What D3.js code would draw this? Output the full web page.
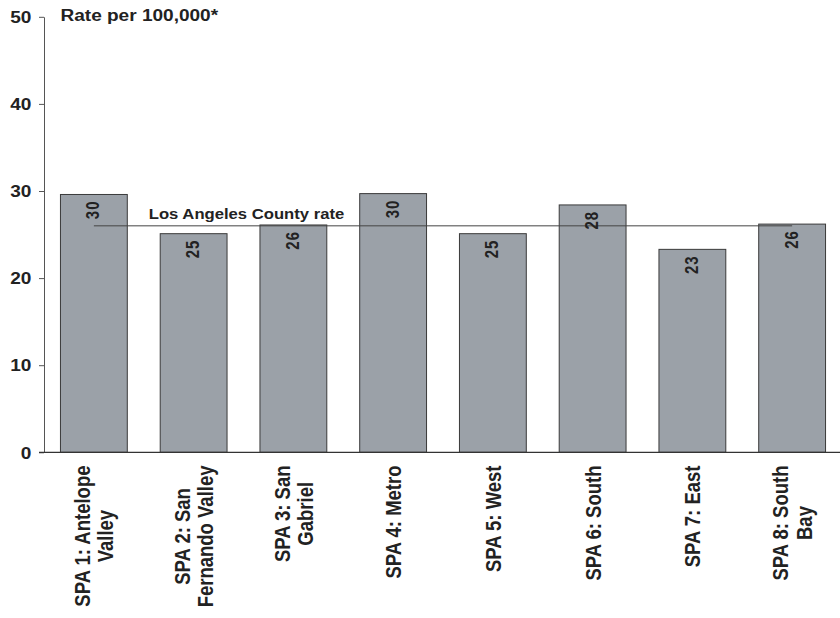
<!DOCTYPE html>
<html>
<head>
<meta charset="utf-8">
<title>Rate per 100,000 by SPA</title>
<script src="https://d3js.org/d3.v7.min.js"></script>
<style>
  body { margin: 0; background: #fff; }
  text { font-family: Arial, "Liberation Sans", Helvetica, sans-serif; font-weight: bold; fill: #222; }
</style>
</head>
<body>
<svg width="840" height="618"></svg>
<script>
// data
var categories = ["SPA 1", "SPA 2", "SPA 3", "SPA 4", "SPA 5", "SPA 6", "SPA 7", "SPA 8"];
var categoryLines = [
  ["SPA 1: Antelope", "Valley"],
  ["SPA 2: San", "Fernando Valley"],
  ["SPA 3: San", "Gabriel"],
  ["SPA 4: Metro"],
  ["SPA 5: West"],
  ["SPA 6: South"],
  ["SPA 7: East"],
  ["SPA 8: South", "Bay"]
];
var rates = [29.6, 25.1, 26.1, 29.7, 25.1, 28.4, 23.3, 26.2];
var rateLabels = ["30", "25", "26", "30", "25", "28", "23", "26"];
var countyRate = 26.0;
var countyLabel = "Los Angeles County rate";
var yTicks = [0, 10, 20, 30, 40, 50];
var yTitle = "Rate per 100,000*";

// the original picture is a bit stretched sideways, text gets the same stretch
var sx = 1.19;

var svg = d3.select("svg");

var x = d3.scaleBand()
  .domain(categories)
  .range([44, 842])
  .paddingInner(0.33)
  .paddingOuter(0.165);

var y = d3.scaleLinear()
  .domain([0, 50])
  .range([452.3, 16.8]);

// y axis
var yAxis = svg.append("g")
  .attr("transform", "translate(44,0)")
  .call(d3.axisLeft(y).tickValues(yTicks).tickSize(5).tickSizeOuter(0));

yAxis.select(".domain").attr("stroke", "#555");
yAxis.selectAll(".tick line").attr("stroke", "#555");
yAxis.selectAll(".tick text")
  .attr("x", -12.7 / sx)
  .attr("dy", "0.36em")
  .attr("transform", "scale(" + sx + ",1)")
  .style("font-size", "16px")
  .style("font-family", "Arial, 'Liberation Sans', sans-serif")
  .style("font-weight", "bold")
  .attr("fill", "#222");

// title
svg.append("text")
  .attr("transform", "translate(" + x(categories[0]) + ",20.5) scale(" + sx + ",1)")
  .style("font-size", "16px")
  .text(yTitle);

// bars
svg.selectAll("rect.bar")
  .data(rates)
  .enter()
  .append("rect")
  .attr("class", "bar")
  .attr("x", function(d, i) { return x(categories[i]); })
  .attr("y", function(d) { return y(d); })
  .attr("width", x.bandwidth())
  .attr("height", function(d) { return y(0) - y(d); })
  .attr("fill", "#9ba1a8")
  .attr("stroke", "#3a3a3a")
  .attr("stroke-width", 1);

// x baseline
svg.append("line")
  .attr("x1", 39)
  .attr("x2", 842)
  .attr("y1", y(0))
  .attr("y2", y(0))
  .attr("stroke", "#333")
  .attr("stroke-width", 1.2);

// county rate line
var firstC = x(categories[0]) + x.bandwidth() / 2;
var lastC = x(categories[categories.length - 1]) + x.bandwidth() / 2;
svg.append("line")
  .attr("x1", firstC)
  .attr("x2", lastC)
  .attr("y1", y(countyRate))
  .attr("y2", y(countyRate))
  .attr("stroke", "#444")
  .attr("stroke-width", 1);

var labelX = x(categories[2]) - x.step() * x.paddingInner() / 2 + 3;
svg.append("text")
  .attr("transform", "translate(" + labelX + "," + (y(countyRate) - 7) + ") scale(" + sx + ",1)")
  .attr("text-anchor", "middle")
  .style("font-size", "14px")
  .text(countyLabel);

// value labels inside bars, rotated
var valFs = 15;
svg.selectAll("text.val")
  .data(rates)
  .enter()
  .append("text")
  .attr("class", "val")
  .attr("transform", function(d, i) {
    var cx = x(categories[i]) + x.bandwidth() / 2 - 1;
    return "translate(" + cx + "," + y(d) + ") scale(" + sx + ",1) rotate(-90)";
  })
  .attr("x", -6)
  .attr("y", 0.716 * valFs / 2)
  .attr("text-anchor", "end")
  .style("font-size", valFs + "px")
  .style("letter-spacing", "1px")
  .text(function(d, i) { return rateLabels[i]; });

// category labels, rotated, lines centred on each other
var catFs = 18.5;
var lineH = 19.4;
var cap = 0.716 * catFs;
var catG = svg.selectAll("g.cat")
  .data(categoryLines)
  .enter()
  .append("g")
  .attr("class", "cat")
  .attr("transform", function(d, i) {
    var cx = x(categories[i]) + x.bandwidth() / 2;
    return "translate(" + cx + ",465.5) scale(" + sx + ",1) rotate(-90)";
  });

catG.each(function(lines) {
  var g = d3.select(this);
  var b0 = (cap - (lines.length - 1) * lineH) / 2;
  var texts = g.selectAll("text")
    .data(lines)
    .enter()
    .append("text")
    .attr("text-anchor", "middle")
    .attr("y", function(d, j) { return b0 + j * lineH; })
    .style("font-size", catFs + "px")
    .text(function(d) { return d; });
  var maxLen = 0;
  texts.each(function() {
    var l = this.getComputedTextLength();
    if (l > maxLen) maxLen = l;
  });
  texts.attr("x", -maxLen / 2);
});
</script>
</body>
</html>
